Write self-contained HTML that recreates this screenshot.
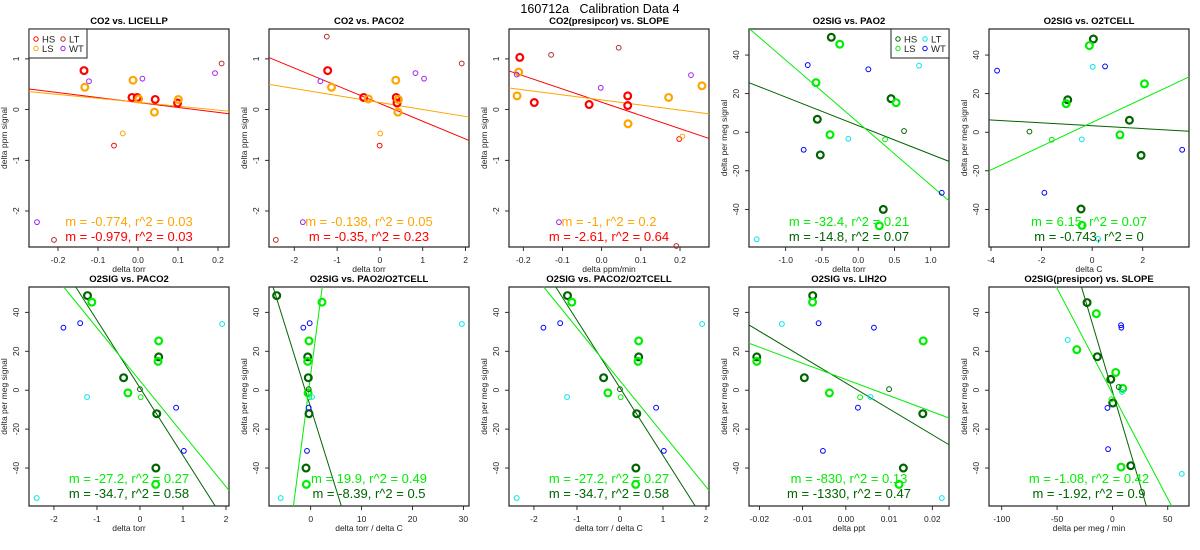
<!DOCTYPE html>
<html><head><meta charset="utf-8"><title>160712a Calibration Data 4</title>
<style>
html,body{margin:0;padding:0;background:#fff;width:1200px;height:550px;overflow:hidden;}
svg{display:block;font-family:"Liberation Sans",Arial,sans-serif;}
</style></head>
<body>
<svg id="chart" width="1200" height="550" viewBox="0 0 1200 550" xmlns="http://www.w3.org/2000/svg">
<rect width="1200" height="550" fill="#fff"/>
<text x="600" y="13" text-anchor="middle" font-size="12.5" style="white-space:pre">160712a   Calibration Data 4</text>
</svg>
<script>
const titles = ["CO2 vs. LICELLP","CO2 vs. PACO2","CO2(presipcor) vs. SLOPE","O2SIG vs. PAO2","O2SIG vs. O2TCELL","O2SIG vs. PACO2","O2SIG vs. PAO2/O2TCELL","O2SIG vs. PACO2/O2TCELL","O2SIG vs. LIH2O","O2SIG(presipcor) vs. SLOPE"];
const xLabels = ["delta torr","delta torr","delta ppm/min","delta torr","delta C","delta torr","delta torr / delta C","delta torr / delta C","delta ppt","delta per meg / min"];
const yLabels = ["delta ppm signal","delta ppm signal","delta ppm signal","delta per meg signal","delta per meg signal","delta per meg signal","delta per meg signal","delta per meg signal","delta per meg signal","delta per meg signal"];
const xRanges = [[-0.2725,0.2275],[-2.59,2.08],[-0.2365,0.274],[-1.506,1.252],[-4.08,3.83],[-2.58,2.07],[-8.19,31.1],[-2.58,2.07],[-0.0224,0.02386],[-111.5,69.2]];
const yRanges = [[-2.71,1.59],[-2.71,1.59],[-2.71,1.59],[-59.5,53.5],[-59.5,53.5],[-59.5,53],[-59.5,53],[-59.5,53],[-59.5,53],[-59.5,53]];
const xTicks = [[-0.2,-0.1,0,0.1,0.2],[-2,-1,0,1,2],[-0.2,-0.1,0,0.1,0.2],[-1,-0.5,0,0.5,1],[-4,-2,0,2],[-2,-1,0,1,2],[0,10,20,30],[-2,-1,0,1,2],[-0.02,-0.01,0,0.01,0.02],[-100,-50,0,50]];
const xTickLabels = [["-0.2","-0.1","0.0","0.1","0.2"],["-2","-1","0","1","2"],["-0.2","-0.1","0.0","0.1","0.2"],["-1.0","-0.5","0.0","0.5","1.0"],["-4","-2","0","2"],["-2","-1","0","1","2"],["0","10","20","30"],["-2","-1","0","1","2"],["-0.02","-0.01","0.00","0.01","0.02"],["-100","-50","0","50"]];
const yTicksCO2 = [-2,-1,0,1];
const yTicksO2 = [-40,-20,0,20,40];
const groups = [
 ["HS","HS","HS","HS","HS","LS","LS","LS","LS","LS","hs","ls","LT","LT","WT","WT","WT","WT"],
 ["HS","HS","HS","HS","LS","LS","LS","LS","LS","hs","ls","LT","LT","LT","WT","WT","WT","WT"],
 ["HS","HS","HS","HS","HS","LS","LS","LS","LS","LS","LT","LT","LT","hs","ls","WT","WT","WT","WT"],
 ["HS","HS","HS","HS","HS","LS","LS","LS","LS","LS","hs","ls","LT","LT","LT","WT","WT","WT","WT"],
 ["HS","HS","HS","HS","HS","LS","LS","LS","LS","LS","hs","ls","LT","LT","LT","WT","WT","WT","WT"],
 ["HS","HS","HS","HS","HS","LS","LS","LS","LS","LS","hs","ls","LT","LT","LT","WT","WT","WT","WT"],
 ["HS","HS","HS","HS","HS","LS","LS","LS","LS","LS","hs","ls","LT","LT","LT","WT","WT","WT","WT"],
 ["HS","HS","HS","HS","HS","LS","LS","LS","LS","LS","hs","ls","LT","LT","LT","WT","WT","WT","WT"],
 ["HS","HS","HS","HS","HS","LS","LS","LS","LS","LS","hs","ls","LT","LT","LT","WT","WT","WT","WT"],
 ["HS","HS","HS","HS","HS","LS","LS","LS","LS","LS","hs","ls","LT","LT","LT","WT","WT","WT","WT"]
];
const xValues = [
 [-0.135,-0.015,-0.002,0.043,0.099,-0.133,-0.0125,0.0018,0.041,0.1008,-0.06,-0.038,0.209,-0.21,-0.1225,0.011,0.1925,-0.2525],
 [-1.22,-0.38,0.38,0.40,-1.13,-0.27,0.37,0.43,0.42,-0.007,0.007,-1.24,1.91,-2.43,-1.39,0.83,1.03,-1.80],
 [-0.209,-0.172,-0.032,0.0665,0.0665,-0.2117,-0.216,0.171,0.0673,0.256,-0.129,0.0435,0.1906,0.198,0.206,-0.217,-0.0024,0.228,-0.109],
 [-0.371,0.453,-0.564,-0.523,0.346,-0.255,-0.582,0.522,-0.389,0.291,0.632,0.370,0.839,-0.136,-1.40,-0.696,0.140,-0.752,1.152],
 [0.049,-0.967,1.473,1.934,-0.44,-0.11,-1.03,2.07,1.10,-0.40,-2.48,-1.60,0.022,-0.41,0.233,-3.76,0.51,-1.89,3.56],
 [-1.22,0.435,-0.38,0.39,0.37,-1.12,0.435,0.42,-0.28,0.365,0.0,0.016,1.91,-1.23,-2.40,-1.78,-1.39,0.84,1.02],
 [-6.68,-0.59,-0.47,-0.33,-0.92,2.22,-0.33,-0.59,-0.52,-0.85,-0.40,-0.26,29.7,0.26,-5.9,-0.2,-1.45,-0.4,-0.73],
 [-1.22,0.435,-0.38,0.39,0.37,-1.12,0.435,0.42,-0.28,0.365,0.0,0.016,1.91,-1.23,-2.40,-1.78,-1.39,0.84,1.02],
 [-0.00766,-0.0206,-0.0096,0.0178,0.0133,-0.0077,0.0179,-0.0206,-0.0038,0.0123,0.0100,0.0033,-0.0148,0.0057,0.0222,-0.0063,0.0065,0.0028,-0.0053],
 [-22.9,-13.6,-1.5,0.3,16.6,-14.5,-32.2,3.0,9.3,7.8,5.7,-0.9,-40.4,8.7,62.7,7.8,8.1,-4.5,-3.9]
];
const yValues = [
 [0.77,0.24,0.24,0.20,0.13,0.44,0.58,0.21,-0.05,0.20,-0.71,-0.47,0.91,-2.57,0.56,0.61,0.72,-2.22],
 [0.77,0.24,0.24,0.13,0.44,0.21,0.58,0.20,-0.05,-0.71,-0.47,1.44,0.91,-2.57,0.56,0.72,0.61,-2.22],
 [1.03,0.14,0.10,0.27,0.08,0.74,0.27,0.24,-0.28,0.47,1.08,1.22,-2.69,-0.58,-0.53,0.69,0.43,0.68,-2.22],
 [49.2,17.4,6.7,-11.8,-40.0,45.6,25.7,15.3,-1.3,-48.5,0.6,-3.7,34.5,-3.4,-55.5,34.8,32.6,-9.1,-31.4],
 [48.3,16.8,6.2,-12.0,-39.8,44.9,14.8,25.1,-1.4,-48.3,0.3,-3.9,33.9,-3.7,-55.3,31.9,34.1,-31.4,-9.1],
 [48.6,17.1,6.4,-12.1,-40.0,45.2,25.3,14.8,-1.4,-48.4,0.5,-3.6,34.0,-3.5,-55.4,32.1,34.4,-9.0,-31.2],
 [48.6,17.1,6.4,-12.1,-40.0,45.2,25.3,14.8,-1.4,-48.4,0.5,-3.6,34.0,-3.5,-55.4,34.4,32.1,-9.0,-31.2],
 [48.6,17.1,6.4,-12.1,-40.0,45.2,25.3,14.8,-1.4,-48.4,0.5,-3.6,34.0,-3.5,-55.4,32.1,34.4,-9.0,-31.2],
 [48.6,17.1,6.4,-12.1,-40.0,45.2,25.3,14.8,-1.4,-48.4,0.5,-3.6,34.0,-3.5,-55.4,34.4,32.1,-9.0,-31.2],
 [45.0,17.2,5.6,-6.6,-38.8,39.3,20.8,9.1,0.9,-39.5,1.6,-4.7,25.8,-0.9,-43.0,33.4,32.1,-9.1,-30.3]
];
const lsSlopes = [-0.774,-0.138,-1,-32.4,6.15,-27.2,19.9,-27.2,-830,-1.08];
const lsIntercepts = [0.145,0.14,0.19,5.0,5.08,4.8,8.0,4.8,5.5,-1.7];
const hsSlopes = [-0.979,-0.35,-2.61,-14.8,-0.743,-34.7,-8.39,-34.7,-1330,-1.92];
const hsIntercepts = [0.14,0.12,0.146,3.4,3.36,1.2,-9.0,1.2,3.7,-0.6];
const lsNotes = ["m = -0.774, r^2 = 0.03","m = -0.138, r^2 = 0.05","m = -1, r^2 = 0.2","m = -32.4, r^2 = 0.21","m = 6.15, r^2 = 0.07","m = -27.2, r^2 = 0.27","m = 19.9, r^2 = 0.49","m = -27.2, r^2 = 0.27","m = -830, r^2 = 0.13","m = -1.08, r^2 = 0.42"];
const hsNotes = ["m = -0.979, r^2 = 0.03","m = -0.35, r^2 = 0.23","m = -2.61, r^2 = 0.64","m = -14.8, r^2 = 0.07","m = -0.743, r^2 = 0","m = -34.7, r^2 = 0.58","m = -8.39, r^2 = 0.5","m = -34.7, r^2 = 0.58","m = -1330, r^2 = 0.47","m = -1.92, r^2 = 0.9"];

const NS = "http://www.w3.org/2000/svg";
const svg = document.getElementById("chart");
function mk(tag, attrs, parent){const e=document.createElementNS(NS,tag);for(const k in attrs)e.setAttribute(k,attrs[k]);(parent||svg).appendChild(e);return e;}
const CO2C = {HS:"#ff0000",LS:"#ffa500",LT:"#b03030",WT:"#a020f0"};
const O2C = {HS:"#006400",LS:"#00ee00",LT:"#00e5ee",WT:"#0000ff"};

for(let p=0;p<10;p++){
  const col=p%5,row=Math.floor(p/5);
  const L=29+240*col,R=L+200,T=row?287:29,B=row?506:247;
  const co2=p<3; const C=co2?CO2C:O2C;
  const [x0,x1]=xRanges[p],[y0,y1]=yRanges[p];
  const sx=v=>L+(v-x0)/(x1-x0)*(R-L);
  const sy=v=>B-(v-y0)/(y1-y0)*(B-T);
  const g=mk("g",{});
  
  
  const t=mk("text",{x:(L+R)/2,y:T-5,"text-anchor":"middle","font-size":"9.5","font-weight":"bold"},g);
  t.textContent=titles[p];
  
  
  xTicks[p].forEach((v,i)=>{
    const x=sx(v);
    mk("line",{x1:x,x2:x,y1:B,y2:B+4,stroke:"#000","stroke-width":"0.8"},g);
    const tl=mk("text",{x:x,y:B+16,"text-anchor":"middle","font-size":"8.5",fill:"#222"},g);
    tl.textContent=xTickLabels[p][i];
    
    
  });
  mk("line",{x1:sx(xTicks[p][0]),x2:sx(xTicks[p][xTicks[p].length-1]),y1:B,y2:B,stroke:"#000","stroke-width":"0.8"},g);
  const xl=mk("text",{x:(L+R)/2,y:B+25,"text-anchor":"middle","font-size":"8.5",fill:"#222"},g);
  xl.textContent=xLabels[p];
  
  
  const yt=co2?yTicksCO2:yTicksO2;
  yt.forEach(v=>{
    const y=sy(v);
    mk("line",{x1:L-4,x2:L,y1:y,y2:y,stroke:"#000","stroke-width":"0.8"},g);
    const tl=mk("text",{x:L-10,y:y,"text-anchor":"middle","font-size":"8.5",fill:"#222",transform:`rotate(-90 ${L-10} ${y})`},g);
    tl.textContent=String(v);
    
    
  });
  mk("line",{x1:L,x2:L,y1:sy(yt[0]),y2:sy(yt[yt.length-1]),stroke:"#000","stroke-width":"0.8"},g);
  const yc=(T+B)/2;
  const yl=mk("text",{x:L-22,y:yc,"text-anchor":"middle","font-size":"8.5",fill:"#222",transform:`rotate(-90 ${L-22} ${yc})`},g);
  yl.textContent=yLabels[p];
  
  
  const bx=mk("rect",{x:L,y:T,width:R-L,height:B-T,fill:"none",stroke:"#222","stroke-width":"1.2"},g);
  
  
  [[hsSlopes[p],hsIntercepts[p],C.HS,'hs-regression-line'],[lsSlopes[p],lsIntercepts[p],C.LS,'ls-regression-line']].forEach(([m,b,c,n])=>{
    // clip line to box analytically
    let xa=x0,xb=x1;
    if(m!==0){
      const xA=(y0-b)/m, xB=(y1-b)/m;
      const lo=Math.min(xA,xB), hi=Math.max(xA,xB);
      xa=Math.max(x0,lo); xb=Math.min(x1,hi);
    }
    if(xb<=xa) return;
    const ln=mk("line",{x1:sx(xa),y1:sy(m*xa+b),x2:sx(xb),y2:sy(m*xb+b),stroke:c,"stroke-width":"1"},g);
    
    
  });
  xValues[p].forEach((xv,i)=>{
    const gr=groups[p][i];const big=(gr==="HS"||gr==="LS");
    const c=C[gr.toUpperCase()];
    const pt=mk("circle",{cx:sx(xv),cy:sy(yValues[p][i]),r:big?3.4:2.4,fill:"none",stroke:c,"stroke-width":big?"2.2":"1"},g);
    
    
  });
  const ty=row?480:223;
  const n1=mk("text",{x:(L+R)/2,y:ty+3,"text-anchor":"middle","font-size":"13",fill:C.LS},g);
  n1.textContent=lsNotes[p];
  
  
  const n2=mk("text",{x:(L+R)/2,y:ty+18,"text-anchor":"middle","font-size":"13",fill:C.HS},g);
  n2.textContent=hsNotes[p];
  
  
}
const legNames=["HS","LS","LT","WT"];
[[29,29,CO2C],[891,29,O2C]].forEach(([lx,ly,C],k)=>{
  const lg=mk("g",{});
  
  
  mk("rect",{x:lx,y:ly,width:58,height:29,fill:"#fff",stroke:"#222","stroke-width":"1"},lg);
  legNames.forEach((n,i)=>{
    const ex=lx+7+(i>=2?27:0),ey=ly+10+(i%2)*9.5;
    const e=mk("g",{},lg);
    
    
    mk("circle",{cx:ex,cy:ey,r:2.2,fill:"none",stroke:C[n],"stroke-width":"1"},e);
    const tx=mk("text",{x:ex+6,y:ey+3.5,"font-size":"9.5",fill:"#222"},e);
    tx.textContent=n;
  });
});
</script>
</body></html>
